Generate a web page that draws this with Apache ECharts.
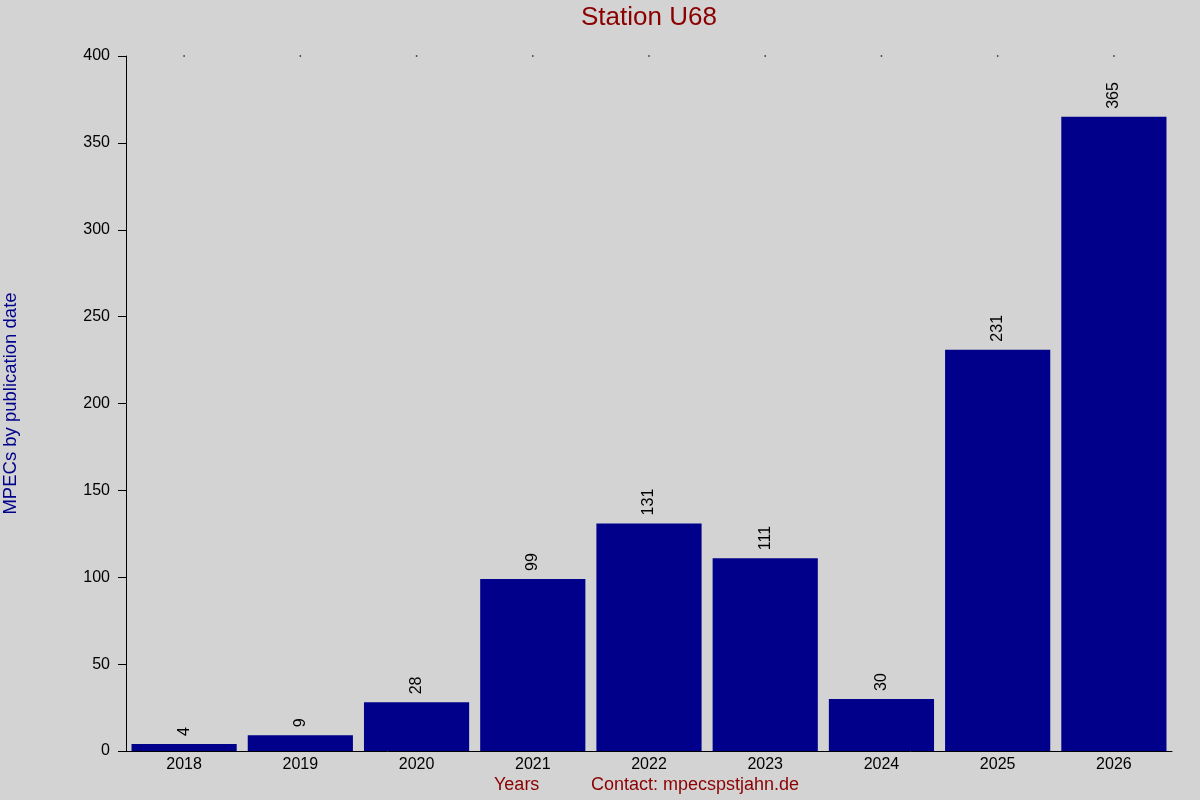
<!DOCTYPE html>
<html>
<head>
<meta charset="utf-8">
<script src="https://cdn.jsdelivr.net/npm/echarts@6/dist/echarts.min.js"></script>
<style>
  html, body { margin: 0; padding: 0; background: #d3d3d3; }
  #chart { width: 1200px; height: 800px; }
</style>
</head>
<body>
<div id="chart"></div>
<script>
const years = ['2018', '2019', '2020', '2021', '2022', '2023', '2024', '2025', '2026']
const mpecs = [4, 9, 28, 99, 131, 111, 30, 231, 365]
const yTicks = { min: 0, max: 400, interval: 50 }
const topDots = years.map(() => 400)

const font = 'Liberation Sans, Arial, sans-serif'
const chart = echarts.init(document.getElementById('chart'))

chart.setOption({
    backgroundColor: '#d3d3d3',
    animation: false,
    graphic: [
        {
            type: 'text', left: 581, top: 5,
            style: { text: 'Station U68', fill: '#8b0000', fontSize: 26, fontFamily: font },
        },
        {
            type: 'text', left: 494, top: 776,
            style: { text: 'Years', fill: '#8b0000', fontSize: 18, fontFamily: font },
        },
        {
            type: 'text', left: 591, top: 776,
            style: { text: 'Contact: mpecspstjahn.de', fill: '#8b0000', fontSize: 18, fontFamily: font },
        },
    ],
    grid: { left: 126, right: 28, top: 56, bottom: 49, containLabel: false, outerBoundsMode: 'none' },
    xAxis: {
        type: 'category',
        data: years,
        axisLine: { show: true, lineStyle: { color: '#000', width: 1 } },
        axisTick: { show: false },
        axisLabel: { color: '#000', fontSize: 16, fontFamily: font, margin: 6 },
    },
    yAxis: {
        type: 'value',
        min: yTicks.min,
        max: yTicks.max,
        interval: yTicks.interval,
        name: 'MPECs by publication date',
        nameLocation: 'middle',
        nameGap: 106,
        nameTextStyle: { color: '#00008b', fontSize: 18.5, fontFamily: font },
        axisLine: { show: true, lineStyle: { color: '#000', width: 1 } },
        axisTick: { show: true, length: 8, lineStyle: { color: '#000' } },
        axisLabel: { color: '#000', fontSize: 16, fontFamily: font, margin: 16 },
        splitLine: { show: false },
    },
    series: [
        {
            type: 'bar',
            data: mpecs,
            barCategoryGap: '9.5%',
            itemStyle: { color: '#00008b' },
            label: {
                show: true,
                position: 'top',
                rotate: 90,
                align: 'left',
                verticalAlign: 'middle',
                distance: 8,
                color: '#000',
                fontSize: 16,
                fontFamily: font,
            },
        },
        {
            type: 'scatter',
            data: topDots,
            symbol: 'rect',
            symbolSize: 1.5,
            itemStyle: { color: '#000' },
            silent: true,
        },
    ],
})
</script>
</body>
</html>
